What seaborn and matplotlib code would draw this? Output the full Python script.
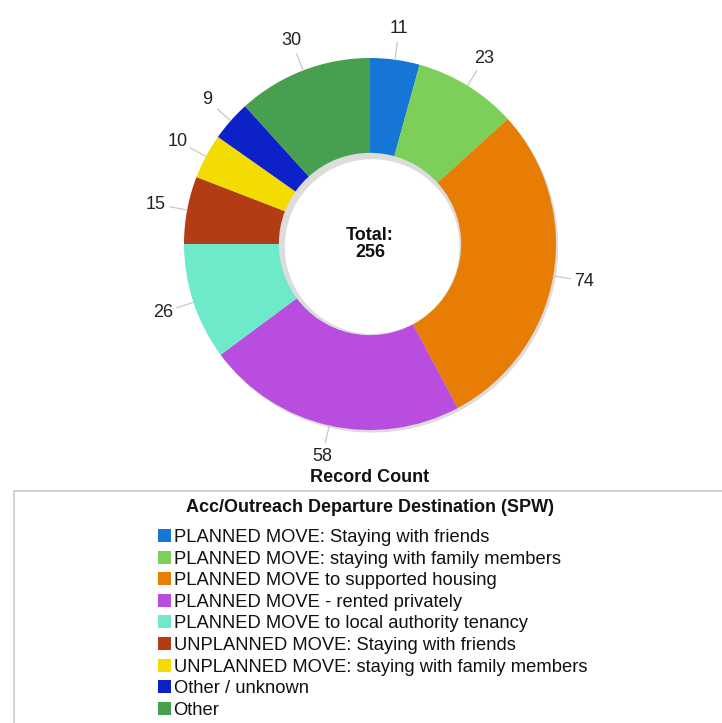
import numpy as np
import matplotlib
matplotlib.use("Agg")
import matplotlib.pyplot as plt
import matplotlib.patches as mpatches
import seaborn as sns

categories = [
    "PLANNED MOVE: Staying with friends",
    "PLANNED MOVE: staying with family members",
    "PLANNED MOVE to supported housing",
    "PLANNED MOVE - rented privately",
    "PLANNED MOVE to local authority tenancy",
    "UNPLANNED MOVE: Staying with friends",
    "UNPLANNED MOVE: staying with family members",
    "Other / unknown",
    "Other",
]
counts = [11, 23, 74, 58, 26, 15, 10, 9, 30]
colors = ["#1676d6", "#7ccf58", "#e87d05", "#b84de0", "#6eeacb",
          "#b23c14", "#f3dc02", "#0c22c8", "#46a050"]
legend_title = "Acc/Outreach Departure Destination (SPW)"
axis_title = "Record Count"

sns.set_theme(style="white")
plt.rcParams['font.family'] = ['Liberation Sans', 'DejaVu Sans']

W, H = 722, 723
fig = plt.figure(figsize=(W / 100, H / 100), dpi=100)

cx, cy, R = 370, 244, 186
L = 1.4
size = 2 * L * R
ax = fig.add_axes([(cx - size / 2) / W, (H - cy - size / 2) / H, size / W, size / H])
ax.axis("off")

# subtle shadow
ax.pie(counts, radius=1.0, startangle=90, counterclock=False,
       colors=["#dcdcdc"] * len(counts), center=(0.012, -0.014),
       wedgeprops=dict(width=1.0 - 0.49 + 0.02, linewidth=0))
wedges, _ = ax.pie(counts, radius=1.0, startangle=90, counterclock=False,
                   colors=colors, wedgeprops=dict(width=1.0 - 0.49, linewidth=0))
ax.set_xlim(-L, L)
ax.set_ylim(-L, L)
ax.set_aspect("equal")

for w, v in zip(wedges, counts):
    ang = np.deg2rad((w.theta1 + w.theta2) / 2)
    ca, sa = np.cos(ang), np.sin(ang)
    ax.plot([1.0 * ca, 1.095 * ca], [1.0 * sa, 1.095 * sa], color="#c8c8c8", lw=0.9)
    ax.text(1.17 * ca, 1.17 * sa, str(v), ha="center", va="center",
            fontsize=13, color="#222222")

ax.text(0, 0, "Total:\n256", ha="center", va="center", fontsize=13,
        fontweight="bold", color="#111111", linespacing=1.05)

fig.text(cx / W, 1 - 477 / H, axis_title, ha="center", va="center",
         fontsize=13, fontweight="bold", color="#111111")

# legend frame
fig.patches.append(mpatches.Rectangle((14 / W, -0.05), (W - 14 + 20) / W, (H - 491) / H + 0.05,
                                      transform=fig.transFigure, fill=False,
                                      edgecolor="#cccccc", linewidth=1.2))
fig.text(cx / W, 1 - 508 / H, legend_title, ha="center", va="center",
         fontsize=13, fontweight="bold", color="#111111")

handles = [mpatches.Patch(facecolor=c, edgecolor="none") for c in colors]
leg = fig.legend(handles, categories, loc="upper left",
                 bbox_to_anchor=(158 / W, 1 - 529 / H), frameon=False,
                 fontsize=13.2, handlelength=0.7, handleheight=0.7, handletextpad=0.15,
                 labelspacing=0.25, borderaxespad=0, borderpad=0)
for t in leg.get_texts():
    t.set_color("#111111")

fig.savefig("out.png", dpi=100)
